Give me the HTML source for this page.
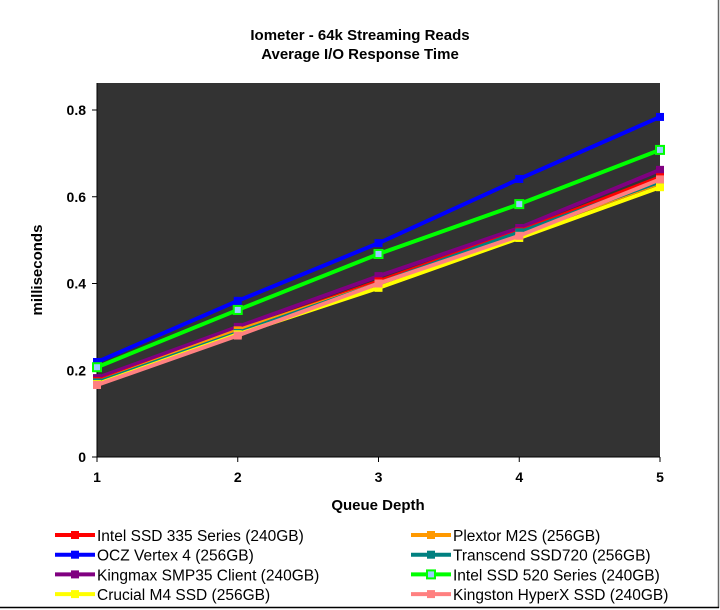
<!DOCTYPE html>
<html><head><meta charset="utf-8"><style>
body{margin:0;background:#fff;}
svg{display:block;font-family:"Liberation Sans",Arial,sans-serif;}
</style></head><body>
<svg id="c" width="720" height="610">
<rect x="0" y="0" width="720" height="610" fill="#fff"/>
<line x1="718.5" y1="0" x2="718.5" y2="608" stroke="#666" stroke-width="1.5"/>
<line x1="0" y1="607.5" x2="719" y2="607.5" stroke="#000" stroke-width="1.5"/>
<text x="360" y="40" text-anchor="middle" font-size="15" font-weight="bold">Iometer - 64k Streaming Reads</text>
<text x="360" y="59" text-anchor="middle" font-size="15" font-weight="bold">Average I/O Response Time</text>
<rect x="97" y="83" width="563" height="374" fill="#333333"/>
<line x1="97" y1="83" x2="97" y2="457" stroke="#000"/>
<line x1="97" y1="457" x2="660" y2="457" stroke="#000"/>
<text x="0" y="0" transform="translate(42,270) rotate(-90)" text-anchor="middle" font-size="15" font-weight="bold">milliseconds</text>
<text x="378" y="510" text-anchor="middle" font-size="15" font-weight="bold">Queue Depth</text>
<g id="ticks"></g><g id="series"></g><g id="legend"></g>
</svg>
<script>
const categories=[1,2,3,4,5];
const yTicks=[0,0.2,0.4,0.6,0.8];
const seriesNames=["Intel SSD 335 Series (240GB)","OCZ Vertex 4 (256GB)","Kingmax SMP35 Client (240GB)","Crucial M4 SSD (256GB)","Plextor M2S (256GB)","Transcend SSD720 (256GB)","Intel SSD 520 Series (240GB)","Kingston HyperX SSD (240GB)"];
const seriesColors=["#ff0000","#0000ff","#800080","#ffff00","#ff9900","#008080","#00ff00","#ff8080"];
const intel335=[0.175,0.29,0.405,0.52,0.645];
const ocz=[0.219,0.36,0.493,0.641,0.784];
const kingmax=[0.182,0.30,0.417,0.528,0.662];
const crucial=[0.168,0.283,0.39,0.505,0.622];
const plextor=[0.172,0.292,0.40,0.515,0.632];
const transcend=[0.172,0.286,0.40,0.518,0.635];
const intel520=[0.207,0.339,0.468,0.583,0.708];
const kingston=[0.166,0.28,0.40,0.51,0.64];
const seriesValues=[intel335,ocz,kingmax,crucial,plextor,transcend,intel520,kingston];
const drawOrder=[1,6,2,0,4,5,3,7];
const NS="http://www.w3.org/2000/svg";
const X=v=>97+(v-1)*(660-97)/4;
const Y=v=>457-v*433.75;
function mk(t,a,p){const e=document.createElementNS(NS,t);for(const k in a)e.setAttribute(k,a[k]);p.appendChild(e);return e;}
const tg=document.getElementById('ticks');
yTicks.forEach(v=>{
 const l=mk('line',{x1:92,x2:97,y1:Y(v),y2:Y(v),stroke:'#000'},tg);
 
 
 const t=mk('text',{x:86,y:Y(v)+5,'text-anchor':'end','font-size':14,'font-weight':'bold'},tg);
 t.textContent=v===0?'0':v.toFixed(1);
 
 
});
categories.forEach(c=>{
 const l=mk('line',{x1:X(c),x2:X(c),y1:457,y2:462,stroke:'#000'},tg);
 
 
 const t=mk('text',{x:X(c),y:482,'text-anchor':'middle','font-size':14,'font-weight':'bold'},tg);
 t.textContent=c;
 
 
});
const sg=document.getElementById('series');
drawOrder.forEach(i=>{
 const g=mk('g',{},sg);
 
 
 const pts=seriesValues[i].map((v,j)=>X(categories[j])+','+Y(v)).join(' ');
 mk('polyline',{points:pts,fill:'none',stroke:seriesColors[i],'stroke-width':4},g);
 seriesValues[i].forEach((v,j)=>{
  const r=mk('rect',{x:X(categories[j])-4,y:Y(v)-4,width:8,height:8,fill:i===6?'#99ccff':seriesColors[i],stroke:seriesColors[i],'stroke-width':i===6?2:0},g);
  
  
 });
});
const lg=document.getElementById('legend');
seriesNames.forEach((n,i)=>{
 const col=Math.floor(i/4),row=i%4;
 const x0=col?411:55,y0=535+row*19.7;
 const g=mk('g',{},lg);
 
 
 mk('line',{x1:x0,x2:x0+40,y1:y0,y2:y0,stroke:seriesColors[i],'stroke-width':4},g);
 mk('rect',{x:x0+16,y:y0-4,width:8,height:8,fill:i===6?'#99ccff':seriesColors[i],stroke:seriesColors[i],'stroke-width':i===6?2:0},g);
 const t=mk('text',{x:x0+42,y:y0+6,'font-size':15.5},g);
 t.textContent=n;
});
</script>
</body></html>
